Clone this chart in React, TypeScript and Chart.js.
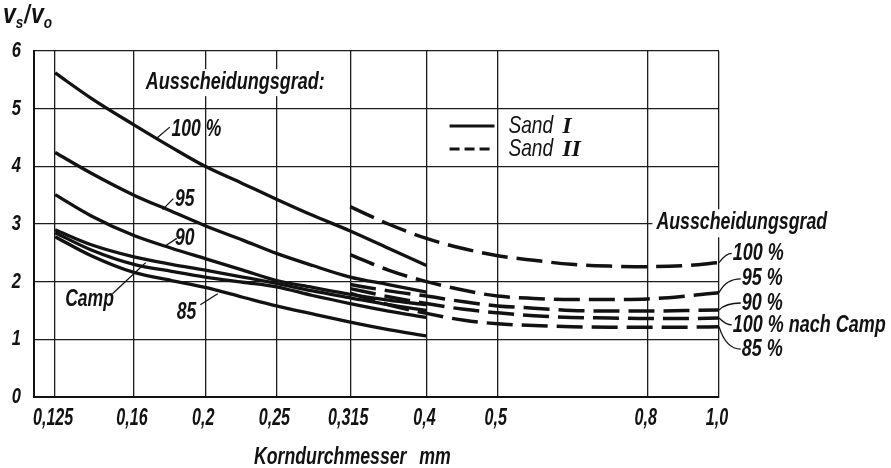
import React, { useEffect, useRef } from "react";
import { Chart, registerables } from "chart.js";

Chart.register(...registerables);

// ---------- axis ticks ----------
const X_TICKS = [0.125, 0.16, 0.2, 0.25, 0.315, 0.4, 0.5, 0.8, 1.0];
const X_TICK_LABELS = ["0,125", "0,16", "0,2", "0,25", "0,315", "0,4", "0,5", "0,8", "1,0"];
const Y_TICKS = [0, 1, 2, 3, 4, 5, 6];
const Y_TICK_LABELS = ["0", "1", "2", "3", "4", "5", "6"];

// ---------- Sand I (solid) ----------
const SAND1_X = [0.125, 0.14, 0.16, 0.18, 0.2, 0.225, 0.25, 0.28, 0.315, 0.355, 0.4];
const SAND1_100 = [5.62, 5.18, 4.72, 4.33, 4.0, 3.7, 3.43, 3.15, 2.88, 2.58, 2.28];
const SAND1_95 = [4.24, 3.88, 3.5, 3.22, 2.97, 2.72, 2.49, 2.28, 2.08, 1.95, 1.82];
const SAND1_90 = [3.51, 3.14, 2.8, 2.58, 2.4, 2.2, 2.02, 1.9, 1.78, 1.68, 1.6];
const SAND1_CAMP = [2.9, 2.64, 2.43, 2.3, 2.2, 2.08, 1.97, 1.84, 1.72, 1.6, 1.5];
const SAND1_B = [2.85, 2.55, 2.3, 2.18, 2.08, 1.99, 1.91, 1.76, 1.62, 1.49, 1.38];
const SAND1_85 = [2.78, 2.45, 2.16, 2.02, 1.9, 1.73, 1.58, 1.44, 1.3, 1.17, 1.06];

// ---------- Sand II (dashed) ----------
const SAND2_X = [0.315, 0.355, 0.4, 0.45, 0.5, 0.56, 0.63, 0.71, 0.8, 0.9, 1.0];
const SAND2_100 = [3.3, 3.0, 2.75, 2.57, 2.45, 2.37, 2.3, 2.27, 2.26, 2.28, 2.33];
const SAND2_95 = [2.47, 2.2, 2.0, 1.85, 1.75, 1.71, 1.69, 1.69, 1.7, 1.75, 1.81];
const SAND2_90 = [1.95, 1.84, 1.75, 1.65, 1.58, 1.54, 1.5, 1.49, 1.49, 1.5, 1.51];
const SAND2_CAMP = [1.88, 1.74, 1.62, 1.52, 1.46, 1.41, 1.38, 1.37, 1.36, 1.36, 1.37];
const SAND2_85 = [1.8, 1.6, 1.45, 1.33, 1.27, 1.24, 1.22, 1.21, 1.21, 1.21, 1.22];

// ---------- texts ----------
const LEFT_LABELS = ["100 %", "95", "90", "Camp", "85"];
const RIGHT_LABELS = ["100 %", "95 %", "90 %", "100 % nach Camp", "85 %"];
const HEADING_TOP = "Ausscheidungsgrad:";
const HEADING_RIGHT = "Ausscheidungsgrad";
const X_TITLE = "Korndurchmesser";
const X_UNIT = "mm";

const INK = "#121212";
const FAMILY = "'Liberation Sans', Arial, sans-serif";
const SERIF = "'Liberation Serif', 'DejaVu Serif', serif";

const pts = (xs: number[], ys: number[]) => xs.map((x, i) => ({ x, y: ys[i] }));

// draw condensed italic text (imitating a narrow DIN-like lettering)
function txt(
  ctx: CanvasRenderingContext2D,
  s: string,
  x: number,
  y: number,
  size: number,
  sx: number,
  align: "left" | "center" | "right" = "left",
  weight = "bold",
  family = FAMILY
) {
  ctx.save();
  ctx.font = `italic ${weight} ${size}px ${family}`;
  ctx.textAlign = "left";
  const w = ctx.measureText(s).width * sx;
  const x0 = align === "center" ? x - w / 2 : align === "right" ? x - w : x;
  ctx.translate(x0, y);
  ctx.scale(sx, 1);
  ctx.fillText(s, 0, 0);
  ctx.restore();
  return w;
}

// annotation placement (data coordinates)
const LEFT_LABEL_POS = [
  { x: 0.18, y: 4.64, l: [0.172, 4.49, 0.179, 4.68] },
  { x: 0.182, y: 3.43, l: [0.175, 3.25, 0.181, 3.44] },
  { x: 0.182, y: 2.75, l: [0.176, 2.61, 0.183, 2.75] },
  { x: 0.129, y: 1.69, l: [0.1496, 1.79, 0.166, 2.33] },
  { x: 0.183, y: 1.46, l: [0.197, 1.6, 0.208, 1.79] },
];
const RIGHT_LABEL_POS = [
  { x: 1.044, y: 2.49 },
  { x: 1.074, y: 2.05 },
  { x: 1.074, y: 1.63 },
  { x: 1.044, y: 1.25 },
  { x: 1.074, y: 0.83 },
];
const RIGHT_ENDS = [SAND2_100, SAND2_95, SAND2_90, SAND2_CAMP, SAND2_85].map((a) => a[a.length - 1]);

const annotPlugin = {
  id: "annot",
  beforeDatasetsDraw(chart: any) {
    const { ctx, scales } = chart;
    const X = (v: number) => scales.x.getPixelForValue(v);
    const Y = (v: number) => scales.y.getPixelForValue(v);
    ctx.save();
    ctx.textBaseline = "middle";
    // headings with white background over the grid
    ctx.font = `italic bold 24px ${FAMILY}`;
    let w = ctx.measureText(HEADING_TOP).width * 0.75;
    ctx.fillStyle = "#fff";
    ctx.fillRect(X(0.166) - 3, Y(5.46) - 13, w + 6, 27);
    w = ctx.measureText(HEADING_RIGHT).width * 0.74;
    ctx.fillRect(X(0.822) - 4, Y(3.03) - 13, w + 8, 28);
    ctx.fillStyle = INK;
    txt(ctx, HEADING_TOP, X(0.166), Y(5.46), 24, 0.75);
    txt(ctx, HEADING_RIGHT, X(0.822), Y(3.03), 24, 0.74);
    ctx.restore();
  },
  afterDraw(chart: any) {
    const { ctx, scales, chartArea } = chart;
    const X = (v: number) => scales.x.getPixelForValue(v);
    const Y = (v: number) => scales.y.getPixelForValue(v);
    ctx.save();
    ctx.fillStyle = INK;
    ctx.strokeStyle = INK;
    ctx.textBaseline = "middle";

    // tick labels from the scales' own ticks
    scales.x.ticks.forEach((t: any, i: number) => {
      txt(ctx, X_TICK_LABELS[i], scales.x.getPixelForValue(t.value) - 2, chartArea.bottom + 22, 23, 0.7, "center");
    });
    scales.y.ticks.forEach((t: any, i: number) => {
      txt(ctx, Y_TICK_LABELS[i], chartArea.left - 13, scales.y.getPixelForValue(t.value), 22, 0.75, "right");
    });

    // left curve labels
    LEFT_LABELS.forEach((t, i) => {
      const p = LEFT_LABEL_POS[i];
      txt(ctx, t, X(p.x), Y(p.y), 24, 0.73);
      ctx.lineWidth = 1.3;
      ctx.beginPath();
      ctx.moveTo(X(p.l[0]), Y(p.l[1]));
      ctx.lineTo(X(p.l[2]), Y(p.l[3]));
      ctx.stroke();
    });

    // right curve labels with curved leaders
    RIGHT_LABELS.forEach((t, i) => {
      const p = RIGHT_LABEL_POS[i];
      const tx = X(p.x), ty = Y(p.y);
      txt(ctx, t, tx, ty, 24, 0.75);
      const sx = X(1.0), sy = Y(RIGHT_ENDS[i]);
      ctx.lineWidth = 1.3;
      ctx.beginPath();
      ctx.moveTo(sx, sy);
      ctx.quadraticCurveTo(sx + 7, ty, tx - 1, ty);
      ctx.stroke();
    });

    // legend
    const lx1 = X(0.43), lx2 = X(0.495), tx = X(0.517);
    const legend = [
      { y: 4.7, dash: [] as number[], num: "I" },
      { y: 4.3, dash: [10, 5], num: "II" },
    ];
    legend.forEach((g) => {
      ctx.lineWidth = 3;
      ctx.setLineDash(g.dash);
      ctx.beginPath();
      ctx.moveTo(lx1, Y(g.y));
      ctx.lineTo(lx2, Y(g.y));
      ctx.stroke();
      ctx.setLineDash([]);
      const sw = txt(ctx, "Sand", tx, Y(g.y), 24, 0.8, "left", "normal");
      txt(ctx, g.num, tx + sw + 9, Y(g.y) + 1, 24, 1, "left", "bold", SERIF);
    });

    // y axis title: v_s / v_o
    let x0 = chartArea.left - 31;
    const by = chartArea.top - 28;
    ctx.textBaseline = "alphabetic";
    x0 += txt(ctx, "v", x0, by, 27, 0.85);
    x0 += txt(ctx, "s", x0, by + 5, 17, 0.8) + 1;
    x0 += txt(ctx, "/", x0, by, 25, 0.8) + 1;
    x0 += txt(ctx, "v", x0, by, 27, 0.85);
    txt(ctx, "o", x0, by + 5, 17, 0.8);

    // x axis title
    ctx.textBaseline = "middle";
    txt(ctx, X_TITLE, X(0.233), chartArea.bottom + 61, 23, 0.77);
    txt(ctx, X_UNIT, X(0.391), chartArea.bottom + 61, 23, 0.77);
    ctx.restore();
  },
};

export default function App() {
  const ref = useRef<HTMLCanvasElement>(null);
  useEffect(() => {
    const solid = (ys: number[]) => ({
      data: pts(SAND1_X, ys),
      borderColor: INK,
      borderWidth: 3.3,
      pointRadius: 0,
      cubicInterpolationMode: "monotone" as const,
      fill: false,
    });
    const dashed = (ys: number[]) => ({
      data: pts(SAND2_X, ys),
      borderColor: INK,
      borderWidth: 3.5,
      borderDash: [26, 9],
      pointRadius: 0,
      cubicInterpolationMode: "monotone" as const,
      fill: false,
    });
    const chart = new Chart(ref.current!, {
      type: "line",
      data: {
        datasets: [
          solid(SAND1_100),
          solid(SAND1_95),
          solid(SAND1_90),
          solid(SAND1_CAMP),
          solid(SAND1_B),
          solid(SAND1_85),
          dashed(SAND2_100),
          dashed(SAND2_95),
          dashed(SAND2_90),
          dashed(SAND2_CAMP),
          dashed(SAND2_85),
        ] as any,
      },
      options: {
        animation: false,
        responsive: false,
        maintainAspectRatio: false,
        layout: { padding: { top: 51, right: 172, left: 0, bottom: 0 } },
        plugins: { legend: { display: false }, tooltip: { enabled: false } },
        scales: {
          x: {
            type: "logarithmic",
            min: 0.117,
            max: 1.0,
            afterBuildTicks: (s: any) => {
              s.ticks = X_TICKS.map((v) => ({ value: v }));
            },
            afterFit: (s: any) => {
              s.height = 71;
            },
            ticks: { display: false, autoSkip: false },
            grid: { color: "#1c1c1c", lineWidth: 1.3, drawTicks: false },
            border: { color: INK, width: 2 },
          },
          y: {
            min: 0,
            max: 6,
            afterBuildTicks: (s: any) => {
              s.ticks = Y_TICKS.map((v) => ({ value: v }));
            },
            afterFit: (s: any) => {
              s.width = 34;
            },
            ticks: { display: false },
            grid: { color: "#1c1c1c", lineWidth: 1.3, drawTicks: false },
            border: { color: INK, width: 2 },
          },
        },
      } as any,
      plugins: [annotPlugin],
    });
    return () => chart.destroy();
  }, []);
  return (
    <div style={{ position: "fixed", left: 0, top: 0, width: 891, height: 468, background: "#fff" }}>
      <canvas ref={ref} width={891} height={468} style={{ display: "block" }} />
    </div>
  );
}
